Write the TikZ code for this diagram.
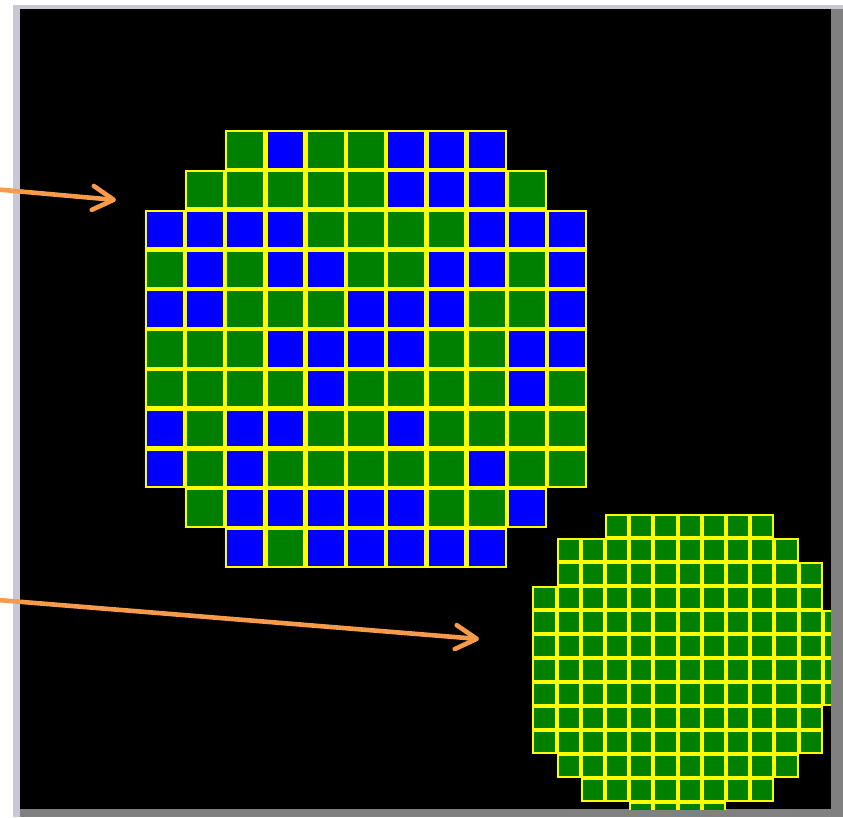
\documentclass[tikz,border=0pt]{standalone}
\usetikzlibrary{arrows.meta}
\definecolor{G}{RGB}{0,128,0}
\definecolor{B}{RGB}{0,0,255}
\definecolor{gridline}{RGB}{255,255,0}
\definecolor{arroworange}{RGB}{247,155,75}
\definecolor{frameLight}{RGB}{200,200,212}
\definecolor{frameDark}{RGB}{128,128,128}
\newcommand\bcell[3]{%
  \fill[gridline] ({144.5+#2*40.27},{130+#1*39.8}) rectangle ++(40.27,39.8);
  \fill[#3] ({144.5+#2*40.27+2.2},{130+#1*39.8+2.2}) rectangle ++(35.87,35.4);
}
\newcommand\scell[2]{%
  \fill[gridline] ({532.3+#2*24.2},{514.3+#1*23.95}) rectangle ++(24.2,23.95);
  \fill[G] ({532.3+#2*24.2+2},{514.3+#1*23.95+2}) rectangle ++(20.2,19.95);
}
\tikzset{
  pointer/.style={draw=arroworange, line width=4.6pt, line cap=round,
    -{Straight Barb[length=21pt,width=24pt,round]}},
}
\begin{document}
\begin{tikzpicture}[x=1pt,y=-1pt]
\useasboundingbox (0,0) rectangle (843,817);
% frame
\fill[white] (0,0) rectangle (843,817);
\fill[frameLight] (13,5) rectangle (843,817);
\fill[frameDark] (831,9) rectangle (843,817);
\fill[frameDark] (20,809) rectangle (843,817);
\fill[black] (20,8.5) rectangle (831,809);
\begin{scope}
\clip (20,8.5) rectangle (831,809);
% large wafer
\foreach \c [count=\j from 2] in {G,B,G,G,B,B,B} {\bcell{0}{\j}{\c}}
\foreach \c [count=\j from 1] in {G,G,G,G,G,B,B,B,G} {\bcell{1}{\j}{\c}}
\foreach \c [count=\j from 0] in {B,B,B,B,G,G,G,G,B,B,B} {\bcell{2}{\j}{\c}}
\foreach \c [count=\j from 0] in {G,B,G,B,B,G,G,B,B,G,B} {\bcell{3}{\j}{\c}}
\foreach \c [count=\j from 0] in {B,B,G,G,G,B,B,B,G,G,B} {\bcell{4}{\j}{\c}}
\foreach \c [count=\j from 0] in {G,G,G,B,B,B,B,G,G,B,B} {\bcell{5}{\j}{\c}}
\foreach \c [count=\j from 0] in {G,G,G,G,B,G,G,G,G,B,G} {\bcell{6}{\j}{\c}}
\foreach \c [count=\j from 0] in {B,G,B,B,G,G,B,G,G,G,G} {\bcell{7}{\j}{\c}}
\foreach \c [count=\j from 0] in {B,G,B,G,G,G,G,G,B,G,G} {\bcell{8}{\j}{\c}}
\foreach \c [count=\j from 1] in {G,B,B,B,B,B,G,G,B} {\bcell{9}{\j}{\c}}
\foreach \c [count=\j from 2] in {B,G,B,B,B,B,B} {\bcell{10}{\j}{\c}}
% small wafer
\foreach \r/\a/\b in {0/3/9,1/1/10,2/1/11,3/0/11,4/0/12,5/0/12,6/0/12,7/0/12,8/0/11,9/0/11,10/1/10,11/2/9,12/4/7}
  {\foreach \c in {\a,...,\b} {\scell{\r}{\c}}}
\end{scope}
% arrows
\coordinate (a1s) at (-2,189.5);
\coordinate (a1e) at (116,200);
\coordinate (a2s) at (-2,600);
\coordinate (a2e) at (479,639);
\draw[pointer] (a1s) -- (a1e);
\draw[pointer] (a2s) -- (a2e);
\end{tikzpicture}
\end{document}
